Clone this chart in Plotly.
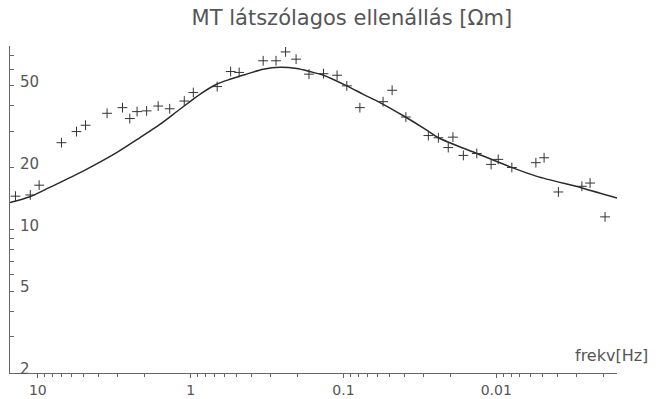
import plotly.graph_objects as go
import numpy as np

# measured data (frequency in Hz, apparent resistivity in Ohm-m)
freq_meas = [14.0, 11.2, 9.8, 7.0, 5.58, 4.87, 3.52, 2.79, 2.50, 2.24, 1.94, 1.63, 1.37,
             1.10, 0.96, 0.67, 0.547, 0.481, 0.335, 0.276, 0.239, 0.204, 0.168, 0.135,
             0.110, 0.095, 0.078, 0.055, 0.048, 0.039, 0.0278, 0.0239, 0.0206, 0.0192,
             0.0164, 0.0134, 0.0108, 0.0097, 0.0079, 0.0055, 0.00486, 0.00392, 0.00275,
             0.00243, 0.00194]
rho_meas = [14.5, 14.7, 16.4, 26.4, 29.9, 32.1, 36.7, 39.1, 34.6, 37.4, 37.7, 39.8, 38.6,
            42.1, 46.3, 49.5, 58.6, 58.0, 66.1, 66.1, 73.0, 67.3, 56.9, 57.2,
            56.2, 49.9, 39.1, 41.8, 47.5, 35.2, 28.6, 27.9, 25.0, 28.1,
            22.9, 23.4, 20.7, 21.9, 20.0, 21.1, 22.3, 15.2, 16.2,
            16.8, 11.5]

# model curve
freq_model = [15.2, 11.28, 8.35, 5.05, 3.05, 2.15, 1.59, 1.175, 0.869, 0.676, 0.553,
              0.430, 0.335, 0.260, 0.202, 0.166, 0.135, 0.095, 0.0741, 0.0576, 0.0395,
              0.0285, 0.0239, 0.0134, 0.0079, 0.00542, 0.00275, 0.00162]
rho_model = [13.5, 14.4, 16.0, 19.2, 23.6, 27.9, 32.4, 38.4, 45.4, 50.8, 53.7,
             56.9, 60.1, 61.5, 60.6, 58.6, 56.2, 49.9, 45.4, 41.4, 35.3,
             30.4, 27.9, 23.4, 20.0, 18.1, 15.9, 14.2]

x_ticks = [10, 1, 0.1, 0.01]
x_labels = ["10", "1", "0.1", "0.01"]
y_ticks = [2, 5, 10, 20, 50]
y_labels = ["2", "5", "10", "20", "50"]

x_minor = [d * m for d in [10, 1, 0.1, 0.01, 0.001] for m in range(2, 10)]
x_minor = [v for v in x_minor if 0.0017 < v < 15]
y_minor = [3, 4, 6, 7, 8, 9, 30, 40, 60, 70]

fig = go.Figure()
fig.add_trace(go.Scatter(x=freq_model, y=rho_model, mode="lines",
                         line=dict(color="#2a2a2a", width=1.5, shape="spline", smoothing=0.8),
                         showlegend=False, hoverinfo="skip"))
fig.add_trace(go.Scatter(x=freq_meas, y=rho_meas, mode="markers",
                         marker=dict(symbol="cross-thin", size=7,
                                     line=dict(color="#333333", width=1)),
                         showlegend=False))

axcol = "#666666"
fig.update_layout(
    width=664, height=399,
    margin=dict(l=10, r=47, t=46, b=26),
    paper_bgcolor="white", plot_bgcolor="white",
    title=dict(text="MT látszólagos ellenállás [Ωm]", x=0.530, xanchor="center",
               y=0.955, yanchor="middle",
               font=dict(family="DejaVu Sans", size=21, color="#555555")),
    font=dict(family="DejaVu Sans", color="#555555"),
    xaxis=dict(type="log", autorange=False, range=[np.log10(15.2), np.log10(0.00162)],
               automargin=False,
               showline=True, linecolor=axcol, linewidth=1, showgrid=False, zeroline=False,
               tickmode="array", tickvals=x_ticks, ticktext=x_labels,
               ticks="outside", ticklen=4, tickcolor=axcol,
               tickfont=dict(size=14, color="#555555"),
               minor=dict(tickmode="array", tickvals=x_minor, ticks="outside",
                          ticklen=3, tickcolor=axcol, showgrid=False)),
    yaxis=dict(type="log", autorange=False, range=[np.log10(2), np.log10(78)],
               automargin=False,
               showline=True, linecolor=axcol, linewidth=1, showgrid=False, zeroline=False,
               tickmode="array", tickvals=y_ticks, ticktext=y_labels,
               ticks="inside", ticklen=4, tickcolor=axcol,
               ticklabelposition="inside", ticklabeloverflow="allow",
               ticklabelshift=-4, ticklabelstandoff=6,
               tickfont=dict(size=15, color="#555555"),
               minor=dict(tickmode="array", tickvals=y_minor, ticks="inside",
                          ticklen=4, tickcolor=axcol, showgrid=False)),
    annotations=[dict(text="frekv[Hz]", xref="paper", yref="paper", x=1.054, y=0.055,
                      xanchor="right", yanchor="middle", showarrow=False,
                      font=dict(family="DejaVu Sans", size=16, color="#555555"))],
)

fig.write_html("out.html", config={"displayModeBar": False},
               post_script="document.body.style.margin='0';document.body.style.overflow='hidden';")
